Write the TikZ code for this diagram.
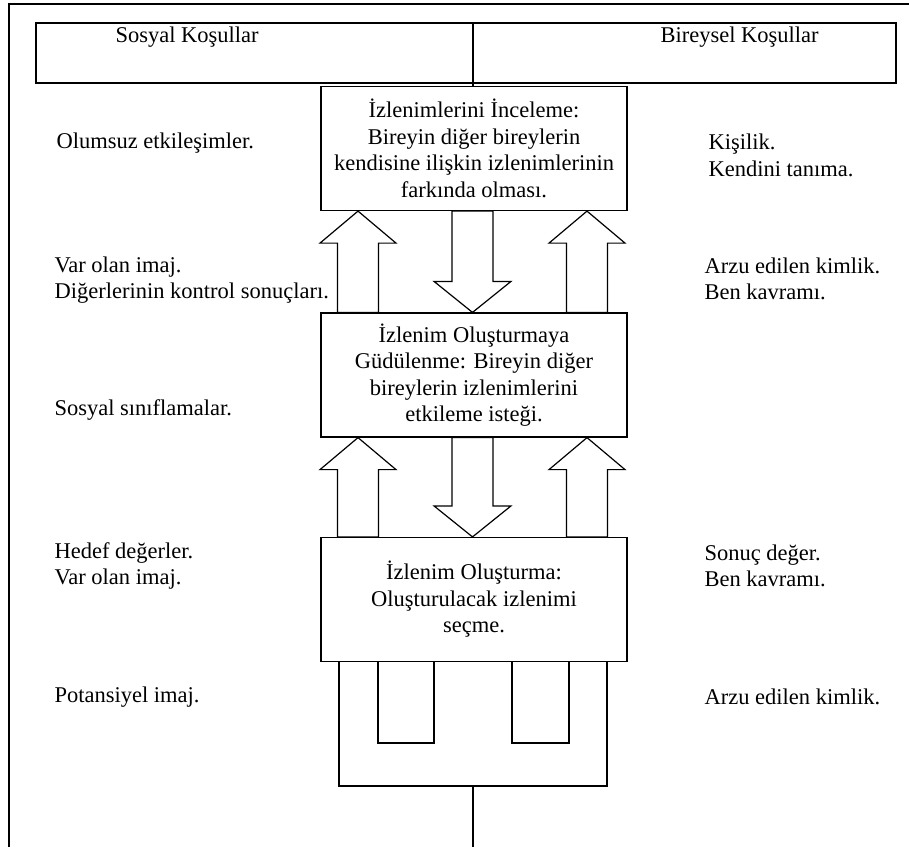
\documentclass[tikz,border=0pt]{standalone}
\usepackage{fontspec}
\setmainfont{Liberation Serif}
\usetikzlibrary{calc}

\begin{document}
\begin{tikzpicture}[x=0.5pt,y=-0.5pt,line width=0.6pt,
    every node/.style={font=\fontsize{11.25}{13.25}\selectfont},
    stage/.style={draw,minimum width=153pt,minimum height=62pt,inner sep=0pt,align=center,
        execute at begin node={\rule{0pt}{16.5pt}}},
    note/.style={anchor=west,align=left,inner sep=0pt}]
            \useasboundingbox (0,0) rectangle (909,847);
            % outer frame
            \draw (9,847) |- (909,4);
            % header
            \draw (36,23) rectangle (896,83);
            \node [note] (sosyal) at (115,37) {Sosyal Koşullar};
            \node [note] (bireysel) at (660,37) {Bireysel Koşullar};
            % three stages
            \node [stage] (inceleme) at (474,148.5) {İzlenimlerini İnceleme:\\Bireyin diğer bireylerin\\kendisine ilişkin izlenimlerinin\\farkında olması.};
            \node [stage] (gudulenme) at (474,375) {İzlenim Oluşturmaya\\Güdülenme: Bireyin diğer\\bireylerin izlenimlerini\\etkileme isteği.};
            \node [stage] (olusturma) at (474,599.5) {İzlenim Oluşturma:\\Oluşturulacak izlenimi\\seçme.};
            % divider down to the first stage
            \draw (473,23) -- (473,0 |- inceleme.north);
            % block arrows between the stages
            \foreach \lo/\hi in {gudulenme/inceleme,olusturma/gudulenme} {
                \foreach \x in {358,587}
                    \draw (\x,0 |- \hi.south) coordinate (t) -- ++(38,32) -| (\x+20.5,0 |- \lo.north) -- (\x-20.5,0 |- \lo.north) |- ($(t)+(-38,32)$) -- cycle;
                \draw (472.5,0 |- \lo.north) coordinate (t) -- ++(-38.5,-31) -| (452,0 |- \hi.south) -- (493,0 |- \hi.south) |- ($(t)+(38.5,-31)$) -- cycle;
            }
            % fork under the last stage
            \coordinate (fork) at (473,786);
            \draw (339,0 |- olusturma.south) |- (607,786) -- (607,0 |- olusturma.south);
            \draw (378,0 |- olusturma.south) |- (434,743) -- (434,0 |- olusturma.south);
            \draw (512,0 |- olusturma.south) |- (569,743) -- (569,0 |- olusturma.south);
            \draw (fork) -- (fork |- 0,847);
            % social conditions, left
            \node [note] (olumsuz) at (56,143) {Olumsuz etkileşimler.};
            \node [note] (varolan) at (54,280) {Var olan imaj.\\Diğerlerinin kontrol sonuçları.};
            \node [note] (sinif) at (54,410) {Sosyal sınıflamalar.};
            \node [note] (hedef) at (54,566) {Hedef değerler.\\Var olan imaj.};
            \node [note] (potansiyel) at (54,697) {Potansiyel imaj.};
            % individual conditions, right
            \node [note] (kisilik) at (708,155.5) {Kişilik.\\Kendini tanıma.};
            \node [note] (arzu) at (704,279) {Arzu edilen kimlik.\\Ben kavramı.};
            \node [note] (sonuc) at (704,566) {Sonuç değer.\\Ben kavramı.};
            \node [note] (kimlik) at (704,697) {Arzu edilen kimlik.};
         \end{tikzpicture}
\end{document}
